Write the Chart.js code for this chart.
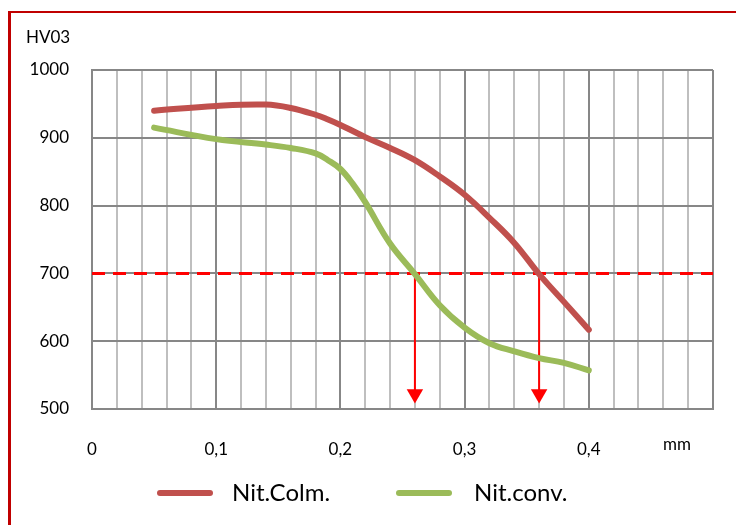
<!DOCTYPE html>
<html>
<head>
<meta charset="utf-8">
<script src="https://cdn.jsdelivr.net/npm/chart.js@4.4.1/dist/chart.umd.min.js"></script>
<style>
  html, body { margin: 0; padding: 0; background: #fff; }
</style>
</head>
<body>
<canvas id="hvChart" width="736" height="525"></canvas>
<script>
// data
const xValues = [0.05, 0.1, 0.14, 0.16, 0.18, 0.19, 0.2, 0.21, 0.22, 0.24, 0.26, 0.28, 0.3, 0.32, 0.34, 0.36, 0.38, 0.4];
const colmValues = [940, 947, 949, 944, 934, 927, 919, 910, 901, 885, 867, 843, 816, 782, 745, 699, 658, 617];
const convValues = [915, 898, 890, 885, 877, 867, 854, 832, 805, 744, 699, 653, 620, 597, 585, 575, 568, 557];
const seriesNames = ['Nit.Colm.', 'Nit.conv.'];
const xTickLabels = ['0', '0,1', '0,2', '0,3', '0,4'];
const yTicks = [500, 600, 700, 800, 900, 1000];
const thresholdValue = 700;
const arrowX = [0.26, 0.36];
const arrowEnd = 522;
const xRange = [0, 0.5];

const majorGrid = '#878787';
const minorGrid = '#bfbfbf';
const fontFamily = 'Lato, "Open Sans", sans-serif';

function toPoints(xs, ys) {
    return xs.map((x, i) => ({ x: x, y: ys[i] }));
}

function isMajor(v) {
    return Math.abs(v * 10 - Math.round(v * 10)) < 1e-6;
}

// frame, axis texts and the legend
const decorPlugin = {
    id: 'decor',
    beforeDraw(chart) {
        const ctx = chart.ctx;
        ctx.save();
        ctx.fillStyle = '#ffffff';
        ctx.fillRect(0, 0, chart.width, chart.height);
        ctx.strokeStyle = '#c00000';
        ctx.lineWidth = 2;
        ctx.beginPath();
        ctx.moveTo(8, 12);
        ctx.lineTo(chart.width, 12);
        ctx.stroke();
        ctx.lineWidth = 3;
        ctx.beginPath();
        ctx.moveTo(9.5, 11);
        ctx.lineTo(9.5, chart.height);
        ctx.stroke();
        ctx.restore();
    },
    afterDraw(chart) {
        const ctx = chart.ctx;
        ctx.save();
        ctx.fillStyle = '#000';
        ctx.font = '17px ' + fontFamily;
        ctx.textAlign = 'left';
        ctx.textBaseline = 'alphabetic';
        ctx.fillText('HV03', 26, 43);
        ctx.textAlign = 'center';
        ctx.fillText('mm', 677, 450);

        // legend
        const items = [{ x: 160, textX: 232 }, { x: 399, textX: 474 }];
        const ly = 493;
        ctx.font = '24px ' + fontFamily;
        ctx.textAlign = 'left';
        ctx.textBaseline = 'middle';
        items.forEach((it, i) => {
            const ds = chart.data.datasets[i];
            ctx.strokeStyle = ds.borderColor;
            ctx.lineWidth = ds.borderWidth;
            ctx.lineCap = 'round';
            ctx.beginPath();
            ctx.moveTo(it.x, ly);
            ctx.lineTo(it.x + 50, ly);
            ctx.stroke();
            ctx.fillText(ds.label, it.textX, ly);
        });
        ctx.restore();
    }
};

const datasets = [
    {
        label: seriesNames[0],
        data: toPoints(xValues, colmValues),
        borderColor: '#c0504d',
        borderWidth: 6,
        borderCapStyle: 'round',
        pointRadius: 0,
        tension: 0.4
    },
    {
        label: seriesNames[1],
        data: toPoints(xValues, convValues),
        borderColor: '#9bbb59',
        borderWidth: 6,
        borderCapStyle: 'round',
        pointRadius: 0,
        tension: 0.4
    },
    {
        label: 'threshold',
        data: toPoints(xRange, [thresholdValue, thresholdValue]),
        borderColor: '#ff0000',
        borderWidth: 3,
        borderDash: [13, 8],
        pointRadius: 0
    }
];

// arrows down to the x axis
arrowX.forEach(ax => {
    datasets.push({
        label: 'arrow',
        data: toPoints([ax, ax], [thresholdValue, arrowEnd]),
        borderColor: '#ff0000',
        backgroundColor: '#ff0000',
        borderWidth: 2,
        pointRadius: [0, 9.5],
        pointStyle: 'triangle',
        rotation: 180,
        pointBorderWidth: 0
    });
});

new Chart(document.getElementById('hvChart'), {
    type: 'line',
    data: { datasets: datasets },
    options: {
        responsive: false,
        devicePixelRatio: 1,
        animation: false,
        layout: { padding: { left: 9, right: 23, top: 70, bottom: 0 } },
        plugins: {
            tooltip: { enabled: false },
            legend: { display: false }
        },
        scales: {
            x: {
                type: 'linear',
                min: xRange[0],
                max: xRange[1],
                afterFit: scale => {
                    scale.height = 116;
                    // tick padding would otherwise shrink the plot sideways
                    scale.paddingLeft = 0;
                    scale.paddingRight = 0;
                },
                border: { color: majorGrid, width: 2 },
                grid: {
                    drawTicks: false,
                    lineWidth: 2,
                    color: c => isMajor(c.tick.value) ? majorGrid : minorGrid
                },
                ticks: {
                    stepSize: 0.02,
                    autoSkip: false,
                    maxRotation: 0,
                    padding: 30,
                    color: '#000',
                    font: { family: fontFamily, size: 17 },
                    callback: v => {
                        if (!isMajor(v)) return '';
                        return xTickLabels[Math.round(v * 10)] || '';
                    }
                }
            },
            y: {
                min: yTicks[0],
                max: yTicks[yTicks.length - 1],
                afterFit: scale => { scale.width = 83; },
                border: { color: majorGrid, width: 2 },
                grid: { drawTicks: false, lineWidth: 2, color: majorGrid },
                ticks: {
                    stepSize: 100,
                    padding: 23,
                    color: '#000',
                    font: { family: fontFamily, size: 17 },
                    callback: v => String(v)
                }
            }
        }
    },
    plugins: [decorPlugin]
});
</script>
</body>
</html>
